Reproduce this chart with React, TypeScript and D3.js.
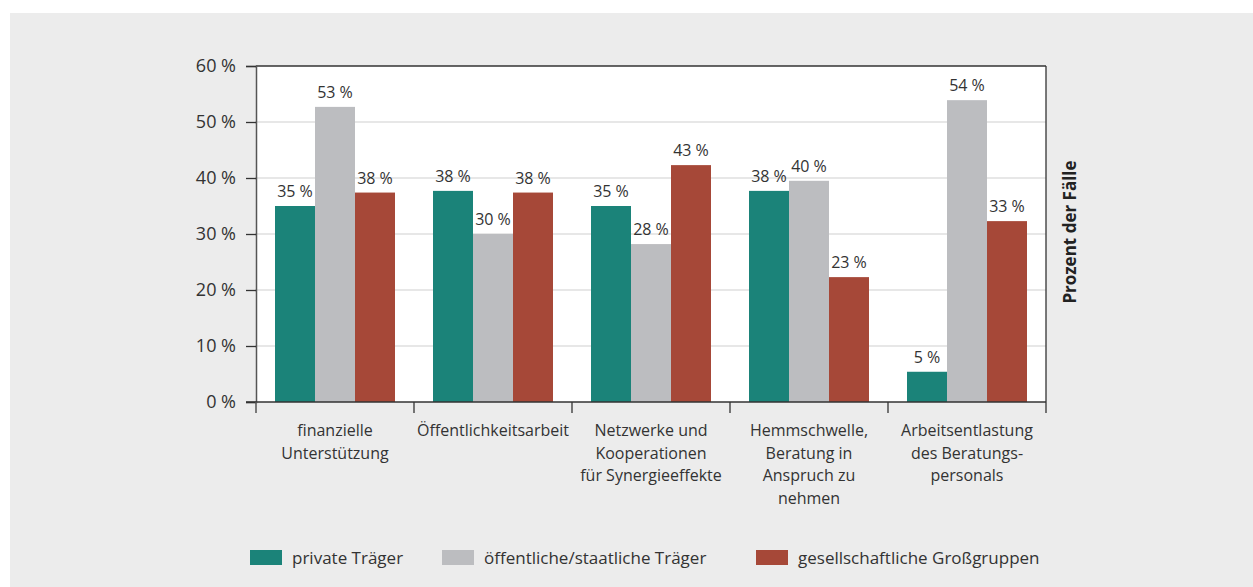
import React, { useEffect, useRef } from 'react';
import * as d3 from 'd3';

const categories = [
  ['finanzielle', 'Unterstützung'],
  ['Öffentlichkeitsarbeit'],
  ['Netzwerke und', 'Kooperationen', 'für Synergieeffekte'],
  ['Hemmschwelle,', 'Beratung in', 'Anspruch zu', 'nehmen'],
  ['Arbeitsentlastung', 'des Beratungs-', 'personals'],
];
const seriesNames = ['private Träger', 'öffentliche/staatliche Träger', 'gesellschaftliche Großgruppen'];
const privateTraeger = [35, 37.7, 35, 37.7, 5.4];
const oeffentlicheTraeger = [52.7, 30, 28.2, 39.5, 53.9];
const grossgruppen = [37.4, 37.4, 42.3, 22.3, 32.3];
const valueLabels = [
  ['35', '38', '35', '38', '5'],
  ['53', '30', '28', '40', '54'],
  ['38', '38', '43', '23', '33'],
];
const yTicks = [0, 10, 20, 30, 40, 50, 60];
const colors = ['#1b8379', '#bcbdc0', '#a64838'];

const W = 1253;
const H = 587;
const FONT = '"Open Sans", sans-serif';
const TEXT = '#333';

const App = () => {
  const svgRef = useRef<SVGSVGElement>(null);

  useEffect(() => {
    const svg = d3.select(svgRef.current);
    svg.selectAll('*').remove();

    svg.append('rect')
      .attr('x', 10).attr('y', 13)
      .attr('width', W - 10).attr('height', H - 13)
      .attr('fill', '#ececec');

    const margin = { left: 256, top: 66, right: 1046, bottom: 402 };

    const x = d3.scaleBand<number>()
      .domain(d3.range(categories.length))
      .range([margin.left, margin.right]);
    const xInner = d3.scaleBand<number>()
      .domain([0, 1, 2])
      .range([19, x.bandwidth() - 19]);
    const y = d3.scaleLinear().domain([0, 60]).range([margin.bottom, margin.top]);

    // plot background
    svg.append('rect')
      .attr('x', margin.left).attr('y', margin.top)
      .attr('width', margin.right - margin.left)
      .attr('height', margin.bottom - margin.top)
      .attr('fill', '#fff');

    // gridlines
    svg.append('g')
      .selectAll('line')
      .data(yTicks.filter(t => t > 0 && t < 60))
      .enter()
      .append('line')
      .attr('x1', margin.left).attr('x2', margin.right)
      .attr('y1', d => y(d)).attr('y2', d => y(d))
      .attr('stroke', '#cfcfcf')
      .attr('stroke-width', 1);

    const seriesData = [privateTraeger, oeffentlicheTraeger, grossgruppen];

    seriesData.forEach((vals, si) => {
      svg.append('g')
        .selectAll('rect')
        .data(vals)
        .enter()
        .append('rect')
        .attr('x', (d, i) => (x(i) as number) + (xInner(si) as number))
        .attr('y', d => y(d))
        .attr('width', xInner.bandwidth())
        .attr('height', d => y(0) - y(d))
        .attr('fill', colors[si]);

      svg.append('g')
        .selectAll('text')
        .data(vals)
        .enter()
        .append('text')
        .attr('x', (d, i) => (x(i) as number) + (xInner(si) as number) + xInner.bandwidth() / 2)
        .attr('y', d => y(d) - 9)
        .attr('text-anchor', 'middle')
        .style('font-family', FONT)
        .style('font-size', '16px')
        .attr('fill', TEXT)
        .text((d, i) => `${valueLabels[si][i]} %`);
    });

    // frame: top and right
    svg.append('line')
      .attr('x1', margin.left).attr('x2', margin.right)
      .attr('y1', margin.top).attr('y2', margin.top)
      .attr('stroke', '#333').attr('stroke-width', 1.3);
    svg.append('line')
      .attr('x1', margin.right).attr('x2', margin.right)
      .attr('y1', margin.top).attr('y2', margin.bottom + 11)
      .attr('stroke', '#333').attr('stroke-width', 1.3);

    // left axis
    const yAxis = svg.append('g')
      .attr('transform', `translate(${margin.left},0)`)
      .call(d3.axisLeft(y).tickValues(yTicks).tickSize(10).tickPadding(10).tickFormat(d => `${d} %`));
    yAxis.select('.domain').attr('stroke', '#555').attr('stroke-width', 1.5);
    yAxis.selectAll('.tick line').attr('stroke', '#333').attr('stroke-width', 1.3);
    yAxis.selectAll('.tick text')
      .style('font-family', FONT)
      .style('font-size', '18px')
      .attr('fill', TEXT);

    // bottom axis
    svg.append('line')
      .attr('x1', margin.left - 10).attr('x2', margin.right)
      .attr('y1', margin.bottom).attr('y2', margin.bottom)
      .attr('stroke', '#333').attr('stroke-width', 1.3);
    svg.append('line')
      .attr('x1', margin.left).attr('x2', margin.left)
      .attr('y1', margin.bottom).attr('y2', margin.bottom + 11)
      .attr('stroke', '#555').attr('stroke-width', 1.5);
    svg.append('g')
      .selectAll('line')
      .data(d3.range(1, categories.length))
      .enter()
      .append('line')
      .attr('x1', i => x(i) as number).attr('x2', i => x(i) as number)
      .attr('y1', margin.bottom).attr('y2', margin.bottom + 11)
      .attr('stroke', '#333').attr('stroke-width', 1.3);

    // category labels
    categories.forEach((lines, i) => {
      const t = svg.append('text')
        .attr('text-anchor', 'middle')
        .style('font-family', FONT)
        .style('font-size', '16px')
        .attr('fill', TEXT);
      lines.forEach((ln, li) => {
        t.append('tspan')
          .attr('x', (x(i) as number) + x.bandwidth() / 2)
          .attr('y', 436 + li * 22.5)
          .text(ln);
      });
    });

    // right axis title
    svg.append('text')
      .attr('transform', `translate(1076,232) rotate(-90)`)
      .attr('text-anchor', 'middle')
      .style('font-family', FONT)
      .style('font-size', '17px')
      .style('font-weight', 'bold')
      .attr('fill', '#222')
      .text('Prozent der Fälle');

    // legend
    const legendX = [250, 442, 756];
    const legend = svg.append('g')
      .selectAll('g')
      .data(seriesNames)
      .enter()
      .append('g')
      .attr('transform', (d, i) => `translate(${legendX[i]},550)`);
    legend.append('rect')
      .attr('width', 32).attr('height', 15)
      .attr('fill', (d, i) => colors[i]);
    legend.append('text')
      .attr('x', 42).attr('y', 14)
      .style('font-family', FONT)
      .style('font-size', '17px')
      .attr('fill', TEXT)
      .text(d => d);
  }, []);

  return (
    <svg
      ref={svgRef}
      width={W}
      height={H}
      style={{ position: 'absolute', left: 0, top: 0, background: '#fff' }}
    />
  );
};

export default App;
